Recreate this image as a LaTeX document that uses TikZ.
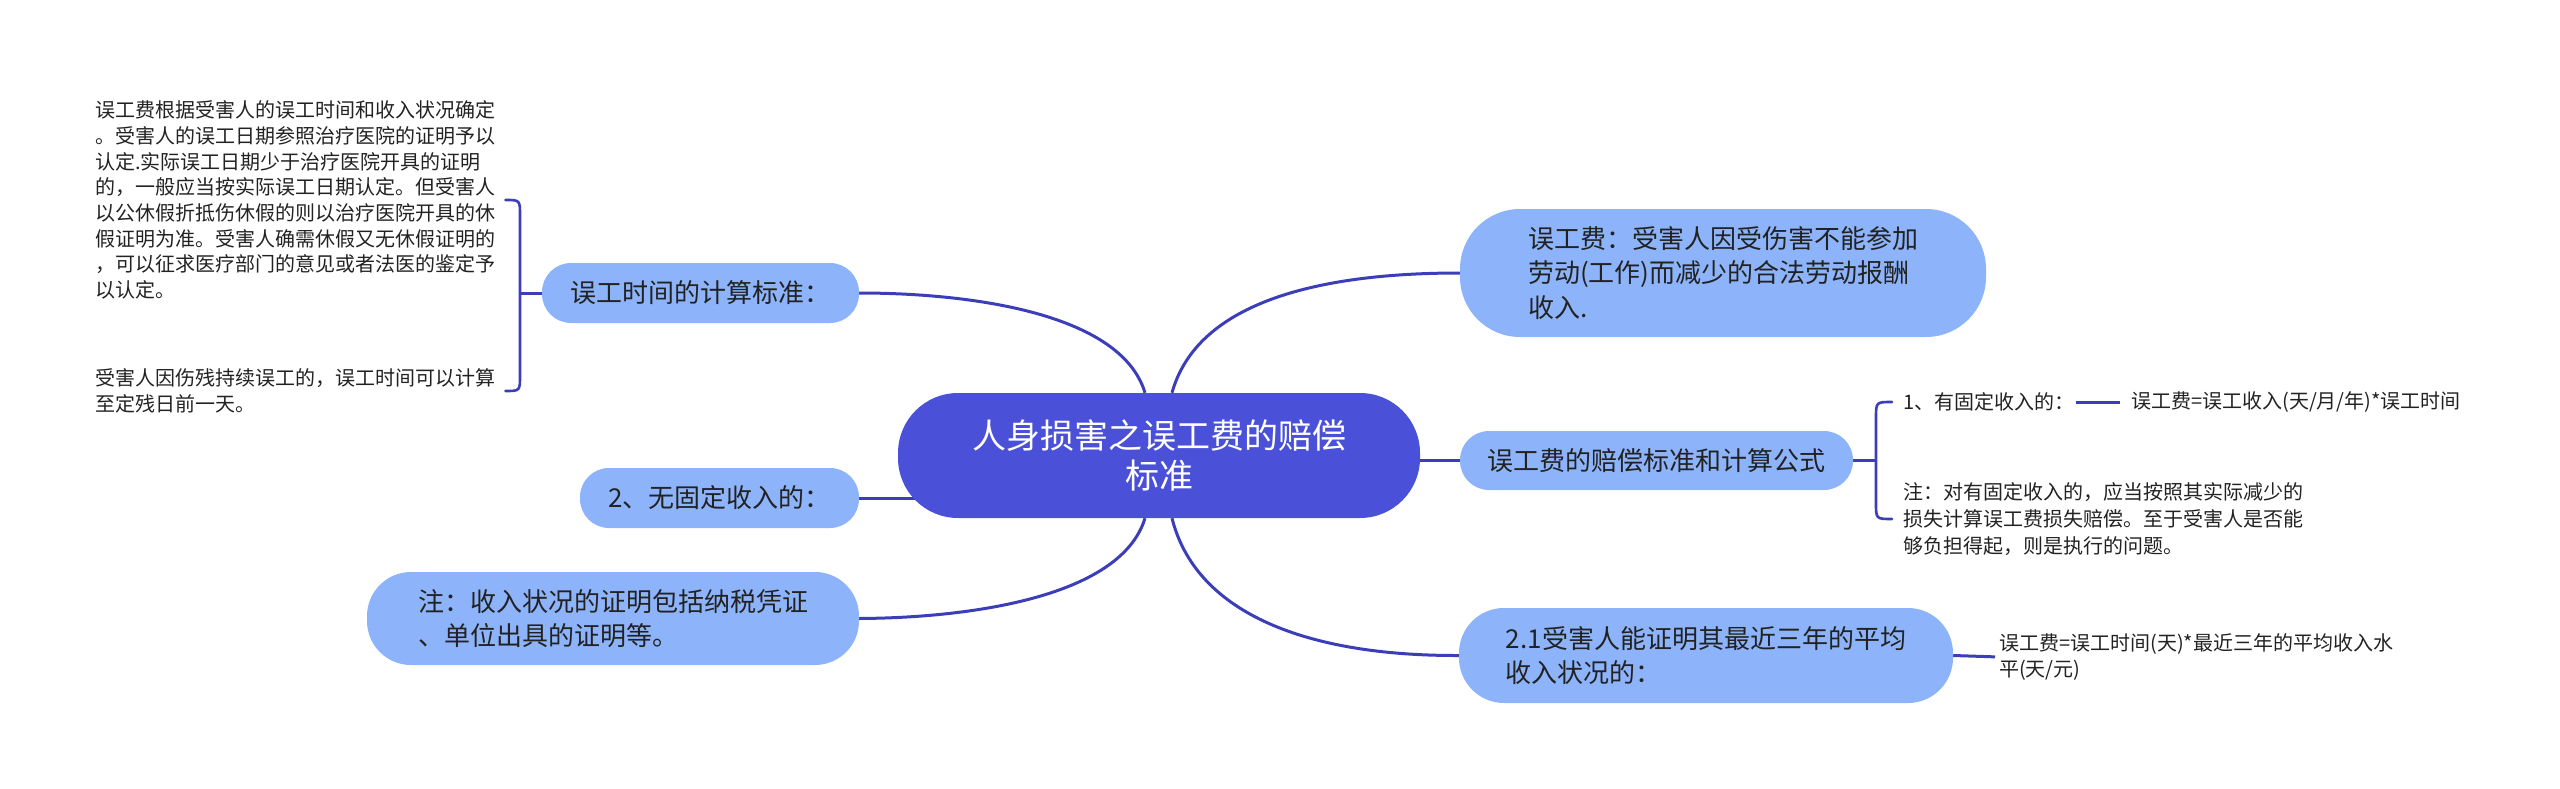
\documentclass[tikz,border=0pt]{standalone}
\usepackage{fontspec}
\setmainfont{Noto Sans CJK SC}
\usetikzlibrary{backgrounds}

\definecolor{rootblue}{RGB}{74,81,216}
\definecolor{leafblue}{RGB}{141,180,250}
\definecolor{linkblue}{RGB}{59,62,184}
\definecolor{inkgray}{RGB}{34,34,34}

\tikzset{
  rootbox/.style={fill=rootblue, text=white, align=center, inner sep=0pt,
    font=\fontsize{34}{40}\selectfont, minimum width=522pt, minimum height=125pt, rounded corners=60pt},
  leafbox/.style={fill=leafblue, text=inkgray, align=left, inner sep=0pt,
    font=\fontsize{26}{34.5}\selectfont},
  notetext/.style={text=inkgray, align=left, inner sep=0pt, anchor=west},
  linkline/.style={draw=linkblue, line width=3pt},
  bracket/.style={draw=linkblue, line width=2.6pt, line cap=round},
}

\begin{document}
\begin{tikzpicture}[x=1pt,y=-1pt]
\useasboundingbox (0,0) rectangle (2560,789);

% centre
\node[rootbox] (root) at (1159,455.5) {人身损害之误工费的赔偿\\标准};

% right side
\node[leafbox, minimum width=526pt, minimum height=128pt, rounded corners=60pt] (def) at (1723,273)
  {误工费：受害人因受伤害不能参加\\劳动(工作)而减少的合法劳动报酬\\收入.};
\node[leafbox, minimum width=393pt, minimum height=59pt, rounded corners=29pt] (formula) at (1656.5,460.5)
  {误工费的赔偿标准和计算公式};
\node[leafbox, minimum width=494pt, minimum height=95pt, rounded corners=45pt] (avg) at (1706,655.5)
  {2.1受害人能证明其最近三年的平均\\收入状况的：};

\node[notetext, font=\fontsize{20}{27}\selectfont] (fixed) at (1903,402) {1、有固定收入的：};
\node[notetext, font=\fontsize{20}{27}\selectfont] (fixfml) at (2131,402) {误工费=误工收入(天/月/年)*误工时间};
\node[notetext, font=\fontsize{20}{27}\selectfont] (fixnote) at (1903,519)
  {注：对有固定收入的，应当按照其实际减少的\\损失计算误工费损失赔偿。至于受害人是否能\\够负担得起，则是执行的问题。};
\node[notetext, font=\fontsize{20}{26}\selectfont] (avgtxt) at (1999,657)
  {误工费=误工时间(天)*最近三年的平均收入水\\平(天/元)};

% left side
\node[leafbox, minimum width=317pt, minimum height=60pt, rounded corners=29pt] (timestd) at (700.5,293)
  {误工时间的计算标准：};
\node[leafbox, minimum width=279pt, minimum height=60pt, rounded corners=29pt] (nofix) at (719.5,498)
  {2、无固定收入的：};
\node[leafbox, minimum width=492pt, minimum height=93pt, rounded corners=44pt] (proof) at (613,618.5)
  {注：收入状况的证明包括纳税凭证\\、单位出具的证明等。};

\node[notetext, font=\fontsize{20}{25.7}\selectfont] (timetxt1) at (95,200)
  {误工费根据受害人的误工时间和收入状况确定\\。受害人的误工日期参照治疗医院的证明予以\\认定.实际误工日期少于治疗医院开具的证明\\的，一般应当按实际误工日期认定。但受害人\\以公休假折抵伤休假的则以治疗医院开具的休\\假证明为准。受害人确需休假又无休假证明的\\，可以征求医疗部门的意见或者法医的鉴定予\\以认定。};
\node[notetext, font=\fontsize{20}{25.7}\selectfont] (timetxt2) at (95,391)
  {受害人因伤残持续误工的，误工时间可以计算\\至定残日前一天。};

% connectors
\begin{scope}[on background layer]
\draw[linkline] ([xshift=-14pt]root.north) .. controls (1120,310) and (960,293) .. (timestd.east);
\draw[linkline] ([xshift=13pt]root.north) .. controls (1195,310) and (1300,273) .. (def.west);
\draw[linkline] ([xshift=-14pt]root.south) .. controls (1120,600) and (960,618) .. (proof.east);
\draw[linkline] ([xshift=13pt]root.south) .. controls (1195,610) and (1300,656) .. (avg.west);
\draw[linkline] (root.center |- formula.west) -- (formula.west);
\draw[linkline] (root.center |- nofix.east) -- (nofix.east);

\draw[linkline] (timestd.west) -- ++(-22,0);
\draw[bracket] ([xshift=10pt]timetxt1.east) .. controls (520,200) .. (520,216) -- (520,375)
  .. controls (520,391) .. ([xshift=10pt]timetxt2.east);

\draw[linkline] (formula.east) -- ++(23,0);
\draw[bracket] ([xshift=-11pt]fixed.west) .. controls (1876,402) .. (1876,418) -- (1876,503)
  .. controls (1876,519) .. ([xshift=-11pt]fixnote.west);
\draw[linkline, shorten <=1pt, shorten >=11pt] (fixed.east) -- (fixfml.west);

\draw[linkline, shorten >=4pt] (avg.east) -- (avgtxt.west);
\end{scope}
\end{tikzpicture}
\end{document}
